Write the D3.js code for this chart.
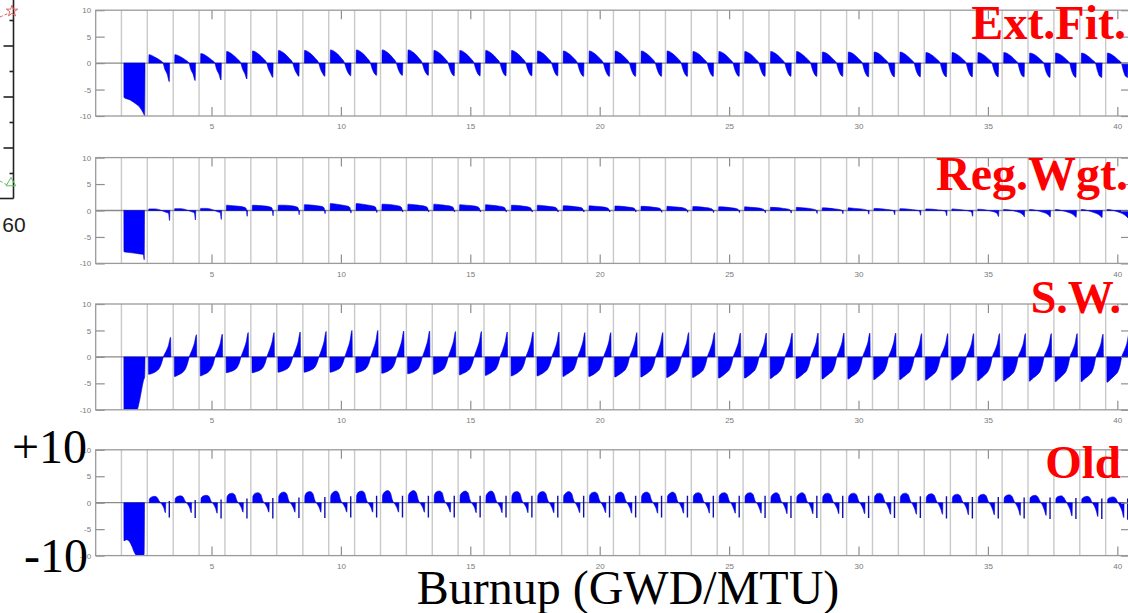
<!DOCTYPE html>
<meta charset="utf-8">
<script src="https://d3js.org/d3.v7.min.js"></script>
<style>
  body { margin: 0; background: #fff; }
</style>
<div id="my_dataviz"></div>
<script>

// ---- data ----
var xTicks = [5, 10, 15, 20, 25, 30, 35, 40];
var yTicks = [-10, -5, 0, 5, 10];

// cycle boundaries (GWD/MTU)
var cycleEdges = [1.52, 2.52, 3.52, 4.52, 5.52, 6.52, 7.52, 8.53, 9.53, 10.53,
  11.53, 12.53, 13.53, 14.53, 15.53, 16.53, 17.53, 18.53, 19.53, 20.53,
  21.54, 22.54, 23.54, 24.54, 25.54, 26.54, 27.54, 28.54, 29.54, 30.54,
  31.54, 32.54, 33.55, 34.55, 35.55, 36.55, 37.55, 38.55, 39.55, 40.55];

// first (long negative) cycle, positions as fraction of the cycle
var extFitFirstF = [0.1, 0.35, 0.58, 0.73, 0.85, 0.9];
var extFitFirst  = [-6.5, -7.0, -7.8, -8.5, -9.5, -10];
var regWgtFirstF = [0.1, 0.4, 0.7, 0.85, 0.88];
var regWgtFirst  = [-7.8, -8.0, -8.2, -8.3, -9.3];
var swFirstF     = [0.1, 0.6, 0.69, 0.77, 0.85, 0.9];
var swFirst      = [-10, -10, -8.5, -6.5, -4.5, -3.7];
var oldFirstF    = [0.1, 0.2, 0.3, 0.4, 0.5, 0.6, 0.8, 0.88];
var oldFirst     = [-7.2, -7.0, -7.3, -8.2, -9.4, -10, -10, -9.8];

// following cycles: one row per cycle, values at the sample fractions
var extFitF = [0.065, 0.30, 0.49, 0.60, 0.68, 0.77, 0.85];
var extFitRows = [
  [1.6,1.1,0.55,0.1,-1.2,-2.1,-3.5],
  [1.6,1.15,0.55,0.1,-1.2,-2.1,-3.3],
  [1.8,1.3,0.6,0.1,-1.2,-2.1,-3.2],
  [2.2,1.6,0.75,0.15,-1.1,-2.0,-3.0],
  [2.3,1.7,0.8,0.15,-1.1,-2.0,-2.7],
  [2.4,1.8,0.85,0.15,-1.1,-2.0,-2.5],
  [2.4,1.8,0.85,0.15,-1.1,-2.0,-2.5],
  [2.5,1.9,0.9,0.15,-1.1,-2.0,-2.4],
  [2.5,1.9,0.9,0.15,-1.1,-2.0,-2.3],
  [2.5,1.9,0.9,0.15,-1.1,-2.0,-2.3],
  [2.5,1.9,0.9,0.15,-1.1,-2.0,-2.3],
  [2.4,1.8,0.85,0.15,-1.1,-2.1,-2.4],
  [2.4,1.8,0.85,0.15,-1.1,-2.1,-2.4],
  [2.4,1.8,0.85,0.15,-1.1,-2.1,-2.4],
  [2.4,1.8,0.85,0.15,-1.1,-2.1,-2.4],
  [2.3,1.75,0.8,0.15,-1.1,-2.1,-2.4],
  [2.3,1.7,0.8,0.1,-1.2,-2.2,-2.5],
  [2.3,1.7,0.8,0.1,-1.2,-2.2,-2.5],
  [2.3,1.7,0.8,0.1,-1.2,-2.2,-2.5],
  [2.3,1.7,0.8,0.1,-1.2,-2.2,-2.5],
  [2.3,1.7,0.8,0.1,-1.2,-2.2,-2.5],
  [2.2,1.65,0.75,0.1,-1.2,-2.2,-2.5],
  [2.2,1.65,0.75,0.1,-1.2,-2.2,-2.5],
  [2.2,1.65,0.75,0.1,-1.2,-2.2,-2.5],
  [2.2,1.65,0.75,0.1,-1.2,-2.2,-2.5],
  [2.2,1.6,0.75,0.1,-1.2,-2.2,-2.5],
  [2.1,1.6,0.7,0.1,-1.2,-2.2,-2.5],
  [2.1,1.6,0.7,0.1,-1.3,-2.3,-2.6],
  [2.1,1.6,0.7,0.1,-1.3,-2.3,-2.6],
  [2.1,1.55,0.7,0.1,-1.3,-2.3,-2.6],
  [2.0,1.5,0.7,0.1,-1.3,-2.3,-2.6],
  [2.0,1.5,0.7,0.1,-1.3,-2.3,-2.6],
  [2.0,1.5,0.7,0.1,-1.3,-2.3,-2.6],
  [2.0,1.5,0.65,0.05,-1.4,-2.4,-2.6],
  [1.9,1.45,0.65,0.05,-1.4,-2.4,-2.7],
  [1.9,1.45,0.65,0.05,-1.4,-2.4,-2.7],
  [1.9,1.4,0.6,0.05,-1.4,-2.5,-2.7],
  [1.9,1.4,0.6,0.05,-1.4,-2.5,-2.7]
];

var regWgtF = [0.06, 0.30, 0.55, 0.75, 0.82, 0.86];
var regWgtRows = [
  [0.3,0.3,0.0,-0.4,-0.5,-1.9],
  [0.35,0.35,0.05,-0.3,-0.45,-1.8],
  [0.4,0.4,0.1,-0.3,-0.4,-1.7],
  [1.0,0.9,0.8,0.6,0.4,-1.1],
  [1.0,0.95,0.85,0.65,0.45,-1.0],
  [1.0,1.0,0.9,0.7,0.5,-0.8],
  [1.1,1.05,0.9,0.75,0.5,-0.6],
  [1.3,1.2,1.0,0.8,0.55,-0.5],
  [1.3,1.2,1.0,0.8,0.55,-0.4],
  [1.2,1.15,1.0,0.8,0.5,-0.3],
  [1.2,1.1,0.95,0.75,0.5,-0.3],
  [1.2,1.1,0.95,0.75,0.5,-0.3],
  [1.1,1.0,0.9,0.7,0.45,-0.3],
  [1.1,1.0,0.85,0.65,0.4,-0.3],
  [1.0,0.95,0.8,0.6,0.4,-0.3],
  [1.0,0.9,0.75,0.6,0.35,-0.3],
  [0.9,0.85,0.7,0.55,0.3,-0.3],
  [0.9,0.8,0.7,0.5,0.3,-0.3],
  [0.85,0.8,0.65,0.5,0.3,-0.3],
  [0.8,0.75,0.6,0.45,0.25,-0.35],
  [0.8,0.7,0.6,0.4,0.2,-0.35],
  [0.75,0.7,0.55,0.4,0.2,-0.4],
  [0.7,0.65,0.5,0.35,0.15,-0.4],
  [0.7,0.6,0.5,0.3,0.1,-0.45],
  [0.6,0.55,0.4,0.25,0.1,-0.5],
  [0.6,0.5,0.4,0.2,0.05,-0.55],
  [0.5,0.45,0.3,0.15,0.0,-0.6],
  [0.5,0.4,0.3,0.1,-0.05,-0.7],
  [0.4,0.35,0.2,0.05,-0.1,-0.8],
  [0.35,0.3,0.15,0.0,-0.15,-0.9],
  [0.3,0.25,0.1,-0.05,-0.2,-1.0],
  [0.3,0.2,0.05,-0.15,-0.35,-1.1],
  [0.25,0.15,-0.1,-0.4,-0.7,-1.15],
  [0.2,0.1,-0.2,-0.6,-0.9,-1.2],
  [0.2,0.05,-0.3,-0.7,-1.0,-1.25],
  [0.2,0.0,-0.35,-0.8,-1.1,-1.3],
  [0.2,0.0,-0.4,-0.85,-1.15,-1.35],
  [0.2,0.0,-0.4,-0.9,-1.2,-1.4]
];

var swF = [0.05, 0.2, 0.35, 0.47, 0.55, 0.62, 0.72, 0.82, 0.9];
var swRows = [
  [-3.3,-3.1,-2.7,-2.1,-1.2,0,1.0,2.2,3.7],
  [-3.7,-3.4,-3.0,-2.3,-1.3,0,1.2,2.6,4.2],
  [-3.6,-3.3,-2.9,-2.2,-1.3,0,1.2,2.6,4.3],
  [-3.0,-2.8,-2.5,-2.0,-1.2,0,1.3,2.8,4.6],
  [-3.0,-2.8,-2.5,-2.0,-1.2,0,1.3,2.8,4.6],
  [-2.9,-2.7,-2.4,-1.9,-1.1,0,1.3,2.8,4.7],
  [-2.9,-2.7,-2.4,-1.9,-1.1,0,1.3,2.9,4.8],
  [-2.9,-2.7,-2.4,-1.9,-1.1,0,1.4,3.0,5.0],
  [-3.0,-2.8,-2.5,-2.0,-1.2,0,1.4,3.0,5.0],
  [-3.1,-2.9,-2.5,-2.0,-1.2,0,1.4,3.0,4.9],
  [-3.2,-3.0,-2.6,-2.1,-1.2,0,1.4,3.0,4.9],
  [-3.3,-3.0,-2.6,-2.1,-1.2,0,1.4,2.9,4.8],
  [-3.4,-3.1,-2.7,-2.1,-1.2,0,1.4,2.9,4.8],
  [-3.5,-3.2,-2.7,-2.2,-1.3,0,1.3,2.9,4.7],
  [-3.6,-3.3,-2.8,-2.2,-1.3,0,1.3,2.9,4.7],
  [-3.6,-3.3,-2.8,-2.2,-1.3,0,1.3,2.8,4.7],
  [-3.7,-3.3,-2.8,-2.3,-1.3,0,1.3,2.8,4.6],
  [-3.7,-3.4,-2.9,-2.3,-1.3,0,1.3,2.8,4.6],
  [-3.8,-3.4,-2.9,-2.3,-1.4,0,1.3,2.8,4.6],
  [-3.8,-3.4,-2.9,-2.3,-1.4,0,1.3,2.8,4.6],
  [-3.9,-3.5,-3.0,-2.4,-1.4,0,1.3,2.8,4.6],
  [-3.9,-3.5,-3.0,-2.4,-1.4,0,1.3,2.8,4.6],
  [-4.0,-3.6,-3.0,-2.4,-1.4,0,1.3,2.7,4.5],
  [-4.0,-3.6,-3.0,-2.4,-1.4,0,1.3,2.7,4.5],
  [-4.1,-3.6,-3.1,-2.4,-1.4,0,1.3,2.7,4.5],
  [-4.1,-3.7,-3.1,-2.5,-1.5,0,1.3,2.7,4.5],
  [-4.2,-3.7,-3.1,-2.5,-1.5,0,1.3,2.7,4.5],
  [-4.2,-3.7,-3.2,-2.5,-1.5,0,1.3,2.7,4.5],
  [-4.3,-3.8,-3.2,-2.5,-1.5,0,1.2,2.7,4.5],
  [-4.3,-3.8,-3.2,-2.6,-1.5,0,1.2,2.6,4.4],
  [-4.4,-3.9,-3.3,-2.6,-1.5,0,1.2,2.6,4.4],
  [-4.4,-3.9,-3.3,-2.6,-1.6,0,1.2,2.6,4.4],
  [-4.5,-4.0,-3.3,-2.6,-1.6,0,1.2,2.6,4.4],
  [-4.5,-4.0,-3.4,-2.7,-1.6,0,1.2,2.6,4.4],
  [-4.6,-4.0,-3.4,-2.7,-1.6,0,1.2,2.6,4.4],
  [-4.7,-4.1,-3.4,-2.7,-1.6,0,1.2,2.6,4.4],
  [-4.7,-4.1,-3.5,-2.8,-1.7,0,1.2,2.6,4.3],
  [-4.8,-4.2,-3.5,-2.8,-1.7,0,1.2,2.6,4.3]
];

// Old: dome + wedge samples, then the thin stroke (top, bottom) at oldStrokeF
var oldF = [0.08, 0.18, 0.28, 0.38, 0.46, 0.56, 0.64, 0.70];
var oldStrokeF = 0.85;
var oldRows = [
  [0.7,1.1,1.2,1.0,0.3,-0.3,-1.0,-1.9,0.3,-2.8],
  [0.8,1.2,1.3,1.1,0.3,-0.3,-1.0,-1.9,0.5,-2.9],
  [0.9,1.3,1.4,1.2,0.3,-0.3,-1.1,-2.0,0.6,-3.0],
  [1.1,1.7,1.8,1.5,0.4,-0.3,-1.0,-1.8,0.8,-3.0],
  [1.2,1.8,1.9,1.6,0.4,-0.3,-1.0,-1.8,0.9,-3.0],
  [1.2,1.9,2.0,1.7,0.4,-0.3,-1.0,-1.8,1.0,-2.9],
  [1.3,2.0,2.1,1.8,0.5,-0.3,-1.0,-1.8,1.1,-2.9],
  [1.3,2.0,2.2,1.8,0.5,-0.3,-1.0,-1.8,1.2,-2.8],
  [1.4,2.1,2.2,1.9,0.5,-0.3,-1.0,-1.8,1.3,-2.8],
  [1.4,2.1,2.3,1.9,0.5,-0.3,-1.0,-1.8,1.3,-2.8],
  [1.4,2.1,2.3,1.9,0.5,-0.3,-1.0,-1.8,1.3,-2.8],
  [1.4,2.1,2.2,1.9,0.5,-0.3,-1.0,-1.8,1.3,-2.8],
  [1.4,2.0,2.2,1.9,0.5,-0.3,-1.0,-1.9,1.3,-2.8],
  [1.3,2.0,2.2,1.8,0.5,-0.3,-1.0,-1.9,1.3,-2.8],
  [1.3,2.0,2.1,1.8,0.5,-0.3,-1.0,-1.9,1.3,-2.8],
  [1.3,2.0,2.1,1.8,0.5,-0.3,-1.1,-1.9,1.3,-2.8],
  [1.3,1.9,2.1,1.8,0.5,-0.3,-1.1,-1.9,1.3,-2.8],
  [1.3,1.9,2.0,1.7,0.5,-0.3,-1.1,-1.9,1.3,-2.8],
  [1.3,1.9,2.0,1.7,0.5,-0.3,-1.1,-2.0,1.3,-2.8],
  [1.2,1.9,2.0,1.7,0.5,-0.3,-1.1,-2.0,1.3,-2.8],
  [1.2,1.8,2.0,1.7,0.4,-0.3,-1.1,-2.0,1.3,-2.8],
  [1.2,1.8,1.9,1.6,0.4,-0.3,-1.1,-2.0,1.3,-2.8],
  [1.2,1.8,1.9,1.6,0.4,-0.3,-1.2,-2.0,1.3,-2.8],
  [1.2,1.8,1.9,1.6,0.4,-0.3,-1.2,-2.0,1.3,-2.9],
  [1.1,1.7,1.9,1.6,0.4,-0.3,-1.2,-2.1,1.3,-2.9],
  [1.1,1.7,1.9,1.6,0.4,-0.3,-1.2,-2.1,1.3,-2.9],
  [1.1,1.7,1.8,1.5,0.4,-0.4,-1.2,-2.1,1.3,-2.9],
  [1.1,1.7,1.8,1.5,0.4,-0.4,-1.2,-2.1,1.3,-2.9],
  [1.1,1.7,1.8,1.5,0.4,-0.4,-1.3,-2.2,1.2,-2.9],
  [1.1,1.7,1.8,1.5,0.4,-0.4,-1.3,-2.2,1.2,-2.9],
  [1.0,1.6,1.7,1.4,0.4,-0.4,-1.3,-2.2,1.2,-3.0],
  [1.0,1.5,1.6,1.3,0.3,-0.4,-1.3,-2.3,1.1,-3.0],
  [1.0,1.5,1.6,1.3,0.3,-0.5,-1.4,-2.3,1.1,-3.0],
  [0.9,1.4,1.5,1.2,0.3,-0.5,-1.4,-2.4,1.0,-3.0],
  [0.9,1.3,1.4,1.1,0.3,-0.5,-1.5,-2.4,1.0,-3.1],
  [0.8,1.2,1.3,1.0,0.3,-0.6,-1.5,-2.5,0.9,-3.1],
  [0.7,1.1,1.2,1.0,0.2,-0.6,-1.6,-2.6,0.8,-3.1],
  [0.7,1.0,1.1,0.9,0.2,-0.7,-1.7,-2.8,0.8,-3.2]
];

// ---- layout ----
var W = 1128, H = 613;
var plotLeft = 95.7, plotRight = 1130, panelH = 105.8;
var grey = "#8f8f8f";

var svg = d3.select("#my_dataviz")
  .append("svg")
    .attr("width", W)
    .attr("height", H)
    .style("font-family", "'Liberation Sans', Arial, sans-serif");

var x = d3.scaleLinear()
  .domain([0.526, 40.49])
  .range([plotLeft, plotRight]);

var panels = [
  {label: "Ext.Fit.", top: 10.2, firstF: extFitFirstF, firstV: extFitFirst, F: extFitF, rows: extFitRows,
   lx: 1126, ly: 39, ls: 48},
  {label: "Reg.Wgt.", top: 157.6, firstF: regWgtFirstF, firstV: regWgtFirst, F: regWgtF, rows: regWgtRows,
   lx: 1128, ly: 190, ls: 48},
  {label: "S.W.", top: 304, firstF: swFirstF, firstV: swFirst, F: swF, rows: swRows,
   lx: 1121, ly: 313, ls: 46},
  {label: "Old", top: 449.8, firstF: oldFirstF, firstV: oldFirst, F: oldF, rows: oldRows,
   lx: 1121, ly: 478, ls: 47, strokes: true}
];

// a cycle's profile: baseline, read samples, baseline
function profile(k, F, V) {
  var s = cycleEdges[k], w = cycleEdges[k + 1] - cycleEdges[k];
  var pts = [{x: s + (F[0] - 0.006) * w, v: 0}];
  F.forEach(function(f, j) { pts.push({x: s + f * w, v: V[j]}); });
  pts.push({x: s + (F[F.length - 1] + 0.012) * w, v: 0});
  return pts;
}

panels.forEach(function(p, i) {
  var y = d3.scaleLinear()
    .domain([-10, 10])
    .range([p.top + panelH, p.top])
    .clamp(true);

  var g = svg.append("g");

  g.append("clipPath").attr("id", "clip" + i)
    .append("rect")
      .attr("x", plotLeft).attr("y", p.top)
      .attr("width", plotRight - plotLeft).attr("height", panelH);

  var inner = g.append("g").attr("clip-path", "url(#clip" + i + ")");

  // cycle boundary lines
  inner.selectAll(".cyc")
    .data(cycleEdges)
    .enter()
    .append("line")
      .attr("x1", function(d) { return x(d); })
      .attr("x2", function(d) { return x(d); })
      .attr("y1", p.top)
      .attr("y2", p.top + panelH)
      .style("stroke", "#c9c9c9")
      .style("stroke-width", 1.4);

  // zero line
  inner.append("line")
    .attr("x1", plotLeft).attr("x2", plotRight)
    .attr("y1", y(0)).attr("y2", y(0))
    .style("stroke", "#8a8a8a")
    .style("stroke-width", 1.3);

  var profiles = [profile(0, p.firstF, p.firstV)];
  p.rows.forEach(function(r, k) {
    profiles.push(profile(k + 1, p.F, r.slice(0, p.F.length)));
  });

  var area = d3.area()
    .x(function(d) { return x(d.x); })
    .y0(y(0))
    .y1(function(d) { return y(d.v); })
    .curve(d3.curveMonotoneX);

  inner.selectAll(".prof")
    .data(profiles)
    .enter()
    .append("path")
      .attr("d", area)
      .style("fill", "#0000ff")
      .style("stroke", "#0000c8")
      .style("stroke-width", 0.6);

  if (p.strokes) {
    inner.selectAll(".stk")
      .data(p.rows)
      .enter()
      .append("line")
        .attr("x1", function(d, k) { return x(cycleEdges[k + 1] + oldStrokeF * (cycleEdges[k + 2] - cycleEdges[k + 1])); })
        .attr("x2", function(d, k) { return x(cycleEdges[k + 1] + oldStrokeF * (cycleEdges[k + 2] - cycleEdges[k + 1])); })
        .attr("y1", function(d) { return y(d[8]); })
        .attr("y2", function(d) { return y(d[9]); })
        .style("stroke", "#1010b0")
        .style("stroke-width", 1.4);
  }

  // axes, ticks pointing inward like matlab
  var axB = g.append("g")
    .attr("transform", "translate(0," + (p.top + panelH) + ")")
    .call(d3.axisBottom(x).tickValues(xTicks).tickSize(-9).tickSizeOuter(0).tickPadding(7.5));
  var axT = g.append("g")
    .attr("transform", "translate(0," + p.top + ")")
    .call(d3.axisTop(x).tickValues(xTicks).tickSize(-9).tickSizeOuter(0).tickFormat(""));
  var axL = g.append("g")
    .attr("transform", "translate(" + plotLeft + ",0)")
    .call(d3.axisLeft(y).tickValues(yTicks).tickSize(-9).tickSizeOuter(0).tickPadding(4.5)
      .tickFormat(function(d) { return String(d); }));
  var axR = g.append("g")
    .attr("transform", "translate(" + plotRight + ",0)")
    .call(d3.axisRight(y).tickValues(yTicks).tickSize(-9).tickSizeOuter(0).tickFormat(""));

  [axB, axT, axL, axR].forEach(function(a) {
    a.select(".domain").remove();
    a.selectAll("line").style("stroke", grey).style("stroke-width", 1.2);
    a.selectAll("text").style("fill", "#7a7a7a").style("font-size", "8px")
      .style("font-family", "'Liberation Sans', Arial, sans-serif");
  });

  // frame
  g.append("rect")
    .attr("x", plotLeft).attr("y", p.top)
    .attr("width", plotRight - plotLeft).attr("height", panelH)
    .style("fill", "none")
    .style("stroke", "#9a9a9a")
    .style("stroke-width", 1.3);

  // red method label
  svg.append("text")
    .attr("x", p.lx).attr("y", p.ly)
    .attr("text-anchor", "end")
    .style("font-family", "'Liberation Serif', 'Times New Roman', serif")
    .style("font-weight", "bold")
    .style("font-size", p.ls + "px")
    .style("fill", "#ff0000")
    .text(p.label);
});

// ---- the cut-off neighbouring chart on the far left ----
var ly = d3.scaleLinear().domain([0, 8]).range([198.5, -5.5]);
var left = svg.append("g").attr("transform", "translate(13.5,0)");
left.append("line").attr("x1", 0).attr("x2", 0).attr("y1", 0).attr("y2", ly(0))
  .style("stroke", "#222").style("stroke-width", 1.6);
left.append("line").attr("x1", -14).attr("x2", 0).attr("y1", ly(0)).attr("y2", ly(0))
  .style("stroke", "#222").style("stroke-width", 1.6);
var lmaj = left.append("g").call(d3.axisLeft(ly).tickValues([2, 4, 6]).tickSize(10).tickFormat(""));
var lmin = left.append("g").call(d3.axisLeft(ly).tickValues([1, 3, 5, 7]).tickSize(4).tickFormat(""));
[lmaj, lmin].forEach(function(a) {
  a.select(".domain").remove();
  a.selectAll("line").style("stroke", "#222").style("stroke-width", 1.6);
});
svg.append("text")
  .attr("x", 14).attr("y", 232)
  .attr("text-anchor", "middle")
  .style("font-size", "21px")
  .style("fill", "#222")
  .text("60");

svg.append("line").attr("x1", 0).attr("y1", 17).attr("x2", 9).attr("y2", 13)
  .style("stroke", "#e06060").style("stroke-dasharray", "3,2").style("stroke-width", 1);
svg.append("path").attr("d", d3.symbol().type(d3.symbolStar).size(40)())
  .attr("transform", "translate(12,11)")
  .style("fill", "none").style("stroke", "#e06060").style("stroke-width", 1);
svg.append("line").attr("x1", 0).attr("y1", 181).attr("x2", 7).attr("y2", 185)
  .style("stroke", "#60c060").style("stroke-dasharray", "3,2").style("stroke-width", 1);
svg.append("path").attr("d", d3.symbol().type(d3.symbolTriangle).size(40)())
  .attr("transform", "translate(11,183)")
  .style("fill", "none").style("stroke", "#60c060").style("stroke-width", 1);

// ---- big slide texts ----
var serif = "'Liberation Serif', 'Times New Roman', serif";
svg.append("text")
  .attr("x", 12).attr("y", 463)
  .style("font-family", serif).style("font-size", "48px").style("fill", "#000")
  .text("+10");
svg.append("text")
  .attr("x", 88).attr("y", 572)
  .attr("text-anchor", "end")
  .style("font-family", serif).style("font-size", "48px").style("fill", "#000")
  .text("-10");
svg.append("text")
  .attr("x", 628).attr("y", 604)
  .attr("text-anchor", "middle")
  .style("font-family", serif).style("font-size", "48px").style("fill", "#000")
  .text("Burnup (GWD/MTU)");

</script>
